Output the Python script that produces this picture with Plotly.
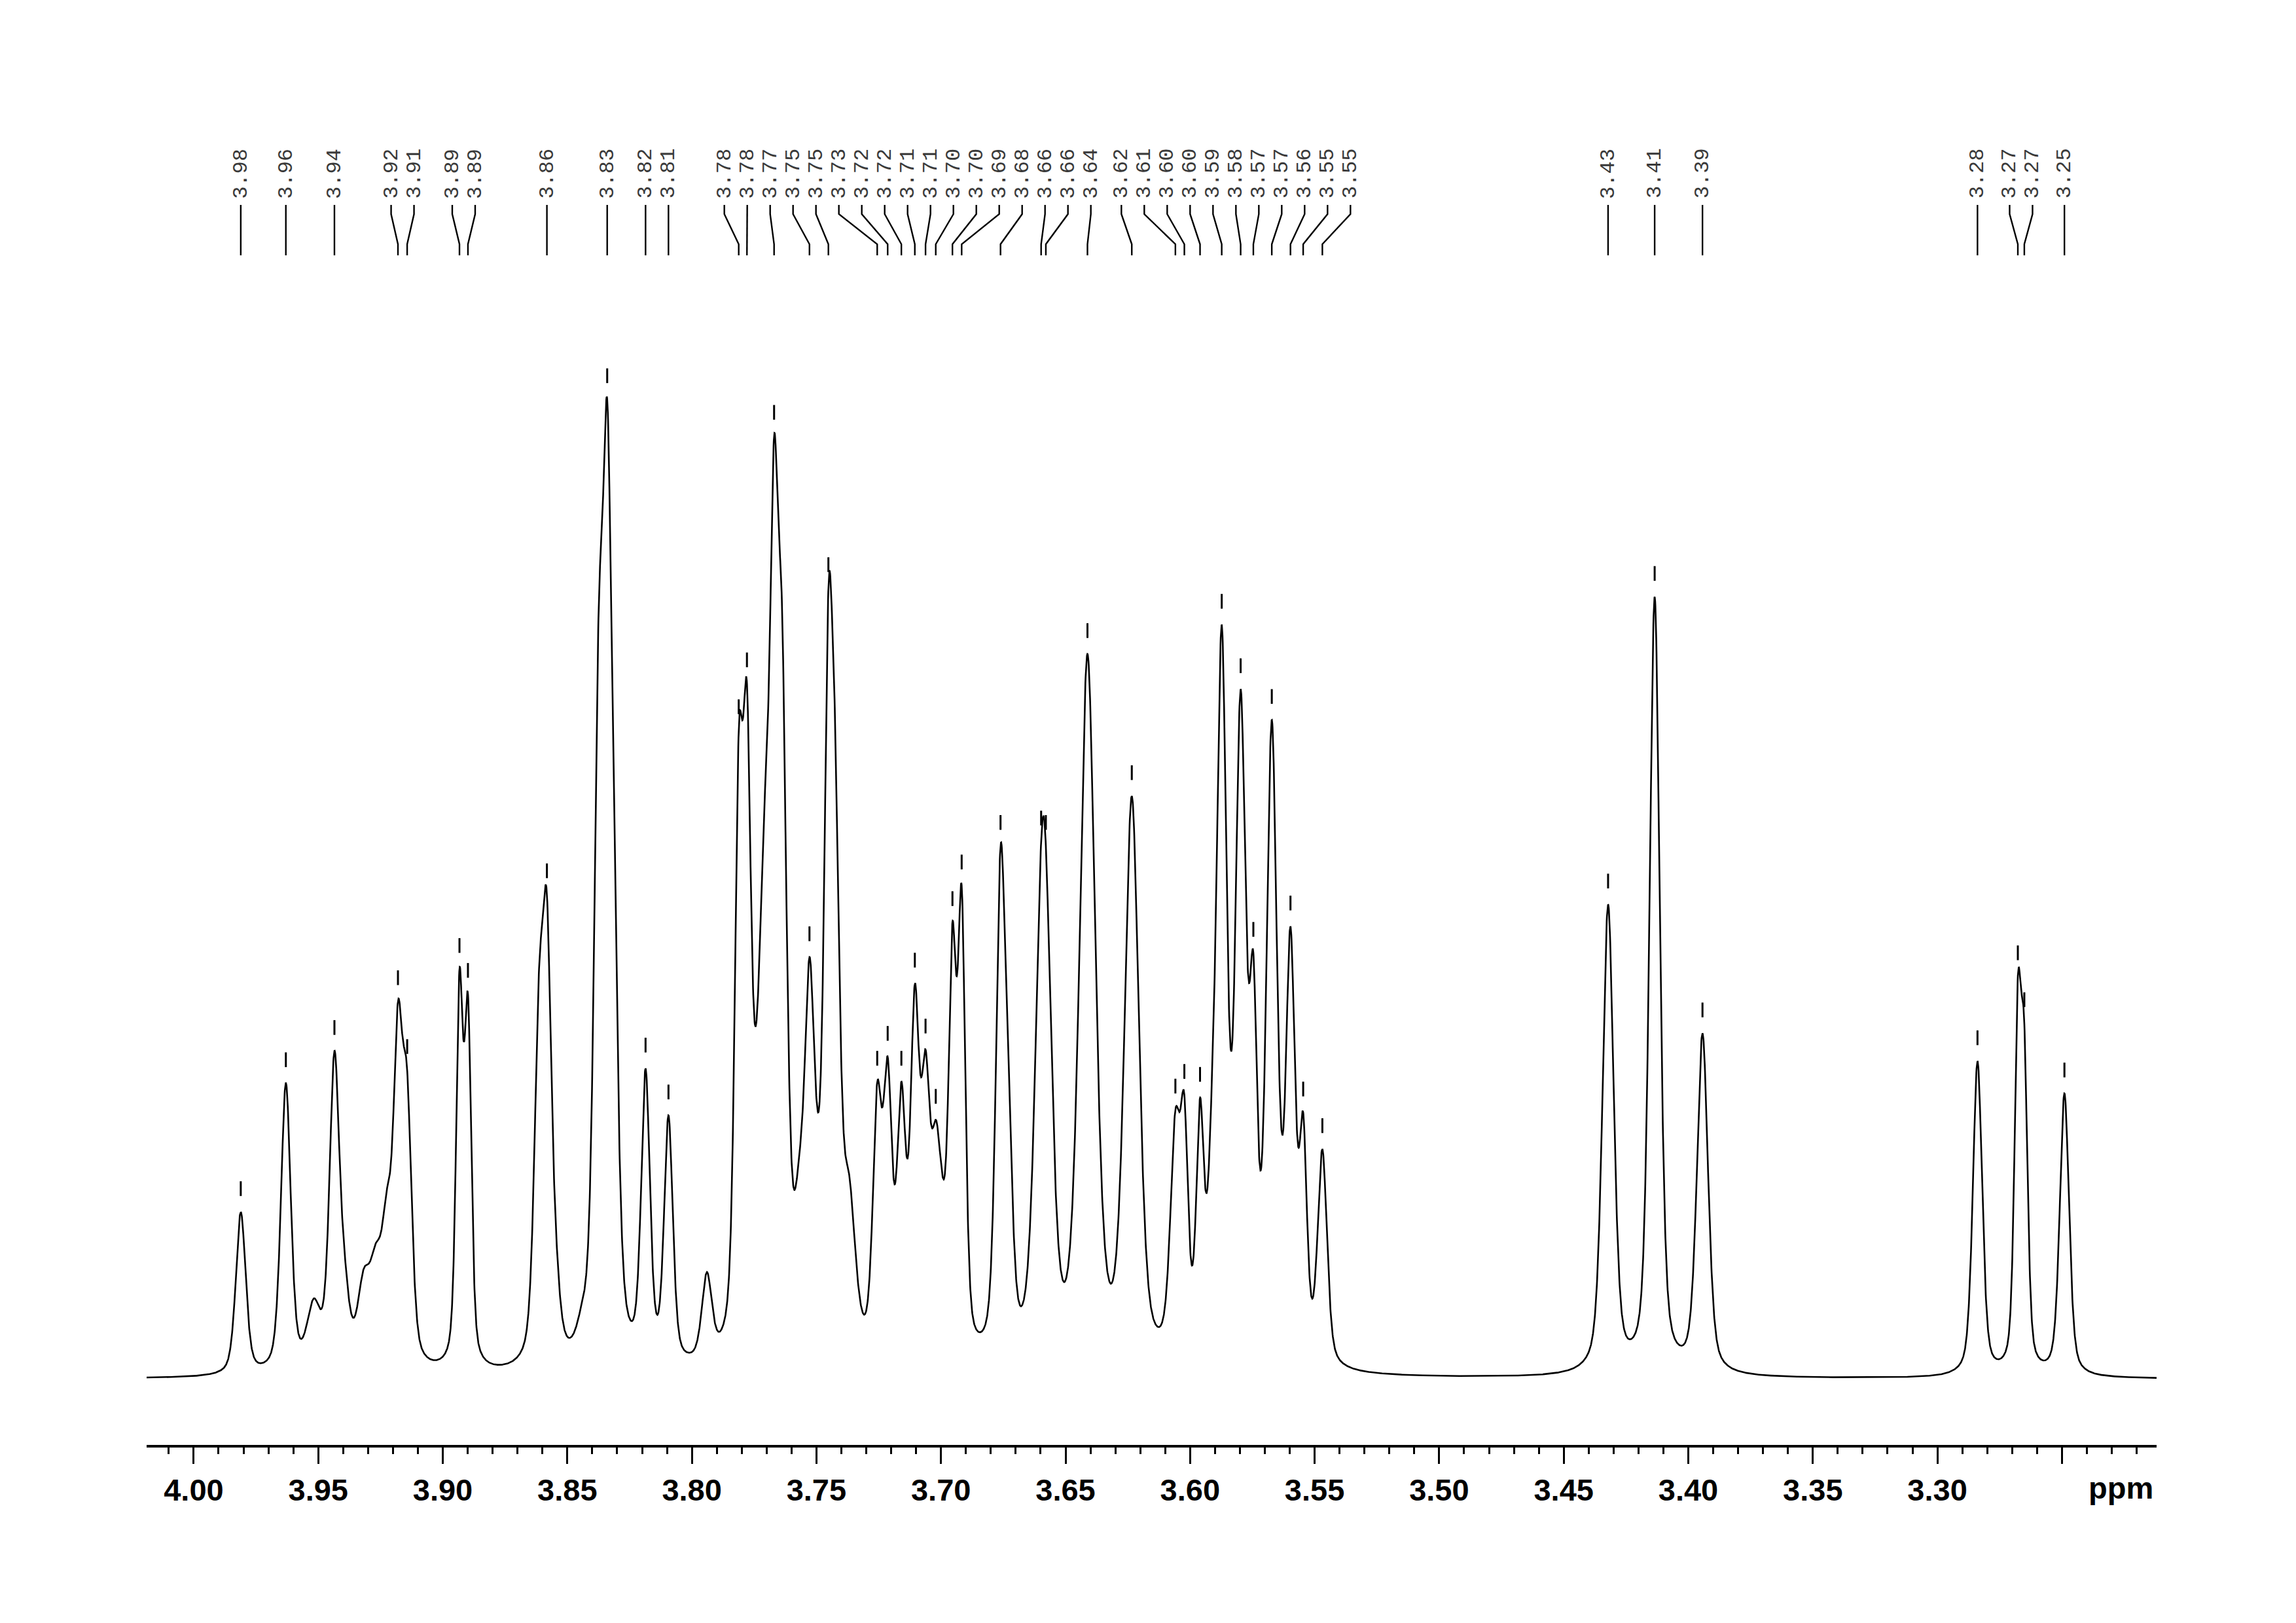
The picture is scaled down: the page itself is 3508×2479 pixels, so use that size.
import numpy as np
import plotly.graph_objects as go

# ---------------- data ----------------
# labelled peaks: label text, position (ppm), observed height (a.u.), line width (ppm)
peak_labels = ["3.98", "3.96", "3.94", "3.92", "3.91", "3.89", "3.89", "3.86", "3.83", "3.82", "3.81",
               "3.78", "3.78", "3.77", "3.75", "3.75", "3.73", "3.72", "3.72", "3.71", "3.71", "3.70",
               "3.70", "3.69", "3.68", "3.66", "3.66", "3.64",
               "3.62", "3.61", "3.60", "3.60", "3.59", "3.58", "3.57", "3.57", "3.56", "3.55", "3.55",
               "3.43", "3.41", "3.39", "3.28", "3.27", "3.27", "3.25"]
peak_ppm = [3.9811, 3.9630, 3.9435, 3.9180, 3.9143, 3.8933, 3.8899, 3.8582, 3.8340, 3.8186, 3.8094,
            3.7812, 3.7779, 3.7670, 3.7528, 3.7452, 3.7256, 3.7214, 3.7159, 3.7105, 3.7062, 3.7021,
            3.6954, 3.6917, 3.6761, 3.6598, 3.6579, 3.6412,
            3.6234, 3.6059, 3.6023, 3.5960, 3.5873, 3.5797, 3.5746, 3.5672, 3.5597, 3.5546, 3.5469,
            3.4322, 3.4135, 3.3943, 3.2839, 3.2677, 3.2651, 3.2490]
peak_height = [114, 202, 224, 258, 211, 280, 263, 331, 669, 212, 180,
               443, 475, 644, 288, 540, 203, 220, 203, 270, 225, 177, 312, 337, 364, 367, 364, 495,
               398, 184, 194, 192, 515, 471, 291, 450, 309, 182, 157,
               324, 534, 236, 217, 275, 243, 195]
peak_width = [0.00470, 0.00470, 0.00470, 0.00441, 0.00441, 0.00323, 0.00323, 0.00441, 0.00441, 0.00412, 0.00412,
              0.00382, 0.00382, 0.00412, 0.00441, 0.00412, 0.00412, 0.00412, 0.00412, 0.00412, 0.00412, 0.00441,
              0.00353, 0.00353, 0.00441, 0.00647, 0.00647, 0.00735,
              0.00676, 0.00470, 0.00353, 0.00353, 0.00470, 0.00500, 0.00353, 0.00500, 0.00441, 0.00353, 0.00441,
              0.00529, 0.00488, 0.00529, 0.00441, 0.00323, 0.00323, 0.00441]

# unlabelled shoulders, small lines and broad underlying humps
shoulder_ppm = [3.9518, 3.9394, 3.9318, 3.9268, 3.9224, 3.8615, 3.8545, 3.8440, 3.8375, 3.8312, 3.7940,
                3.7739, 3.7707, 3.7637, 3.7568, 3.7501, 3.7424, 3.7369, 3.6996, 3.6730, 3.5912]
shoulder_height = [55, 86, 75, 93, 130, 274, 100, 53, 520, 380, 73,
                   248, 400, 520, 154, 194, 440, 140, 141, 228, 207]
shoulder_width = [0.00647, 0.00470, 0.00588, 0.00588, 0.00470, 0.00441, 0.00412, 0.00529, 0.00441, 0.00441, 0.00470,
                  0.00823, 0.00529, 0.00441, 0.00529, 0.00706, 0.00441, 0.00588, 0.00647, 0.00412, 0.00412]

major_ticks = [4.00, 3.95, 3.90, 3.85, 3.80, 3.75, 3.70, 3.65, 3.60, 3.55, 3.50, 3.45, 3.40, 3.35, 3.30, 3.25]
major_text = ["4.00", "3.95", "3.90", "3.85", "3.80", "3.75", "3.70", "3.65", "3.60", "3.55", "3.50",
              "3.45", "3.40", "3.35", "3.30", ""]
x_range = [4.0189, 3.2120]
unit_label = "ppm"
unit_ppm = 3.2262

# ---------------- figure geometry ----------------
# (the html page body adds an 8 px offset; margins compensate for it)
W, H = 3508, 2479
ML, MR, MT, MB = 216, 221, 92, 280
plot_w = W - ML - MR
plot_h = H - MT - MB
y_range = [-45.0, 896.8]
px_per_ppm = plot_w / (x_range[0] - x_range[1])
units_per_px = (y_range[1] - y_range[0]) / plot_h
PAGE_OFF = 8


def y_at_px(py):
    """data y for a page pixel row (from top)"""
    return y_range[1] - (py - PAGE_OFF - MT) * units_per_px


# ---------------- spectrum line shape ----------------
def pv(dx, w, eta=0.45):
    r = 2.0 * dx / w
    return eta / (1.0 + r * r) + (1.0 - eta) * np.exp(-np.log(2.0) * r * r)


P = np.array(peak_ppm + shoulder_ppm)
Hh = np.array(peak_height + shoulder_height, dtype=float)
Wd = np.array(peak_width + shoulder_width)
A = pv(P[:, None] - P[None, :], Wd[None, :])
amp = Hh.copy()
for _ in range(5000):
    amp *= Hh / (A @ amp)

xs = np.linspace(x_range[0], x_range[1], 9000)
spec = pv(xs[:, None] - P[None, :], Wd[None, :]) @ amp

# ---------------- label placement (spread overlapping labels) ----------------
pp = np.array(peak_ppm)
gap = 35.0 / px_per_ppm
clusters = [[i] for i in range(len(pp))]


def cl_pos(cl):
    c = pp[cl].mean()
    n = len(cl)
    return [c + gap * ((n - 1) / 2.0 - k) for k in range(n)]


changed = True
while changed:
    changed = False
    for k in range(len(clusters) - 1):
        a_pos = cl_pos(clusters[k])
        b_pos = cl_pos(clusters[k + 1])
        if a_pos[-1] - b_pos[0] < gap - 1e-9:
            clusters[k] = clusters[k] + clusters[k + 1]
            del clusters[k + 1]
            changed = True
            break
label_x = np.zeros(len(pp))
for cl in clusters:
    for idx, pos in zip(cl, cl_pos(cl)):
        label_x[idx] = pos

# connectors
y_top, y_b1, y_b2, y_bot = y_at_px(313), y_at_px(327), y_at_px(373), y_at_px(390)
cx, cy = [], []
for lx, px in zip(label_x, pp):
    cx += [lx, lx, px, px, None]
    cy += [y_top, y_b1, y_b2, y_bot, None]

# peak markers
peak_val = pv(pp[:, None] - P[None, :], Wd[None, :]) @ amp
mx, my = [], []
for px, v in zip(pp, peak_val):
    mx += [px, px, None]
    my += [v + 24.5 * units_per_px, v + 47.0 * units_per_px, None]

fig = go.Figure()
fig.add_trace(go.Scatter(x=xs, y=spec, mode="lines", line=dict(color="black", width=2.6),
                         hoverinfo="skip", showlegend=False))
fig.add_trace(go.Scatter(x=cx, y=cy, mode="lines", line=dict(color="black", width=2.4),
                         hoverinfo="skip", showlegend=False))
fig.add_trace(go.Scatter(x=mx, y=my, mode="lines", line=dict(color="black", width=3),
                         hoverinfo="skip", showlegend=False))

ann = []
for lx, t in zip(label_x, peak_labels):
    ann.append(dict(x=lx, y=y_at_px(265), xref="x", yref="y", text=t, showarrow=False,
                    textangle=-90, xanchor="center", yanchor="middle",
                    font=dict(family="Liberation Mono", size=32, color="#3a3a3a")))
ann.append(dict(x=unit_ppm, y=-(2272 - PAGE_OFF - (H - MB)) / plot_h, xref="x", yref="paper", text=unit_label,
                showarrow=False, xanchor="center", yanchor="middle",
                font=dict(family="Liberation Sans", size=47, color="black", weight="bold")))

fig.update_layout(
    width=W, height=H, margin=dict(l=ML, r=MR, t=MT, b=MB),
    paper_bgcolor="white", plot_bgcolor="white", annotations=ann, showlegend=False,
    xaxis=dict(range=x_range, tickmode="array", tickvals=major_ticks, ticktext=major_text,
               ticks="outside", ticklen=25, tickwidth=3, tickcolor="black",
               showline=True, linewidth=4, linecolor="black", showgrid=False, zeroline=False,
               tickfont=dict(family="Liberation Sans", size=47, color="black", weight="bold"),
               minor=dict(tickmode="linear", tick0=4.0, dtick=0.01, ticks="outside", ticklen=10,
                          tickwidth=3, tickcolor="black", showgrid=False)),
    yaxis=dict(range=y_range, visible=False, showgrid=False, zeroline=False),
)
fig.write_html("out.html")
